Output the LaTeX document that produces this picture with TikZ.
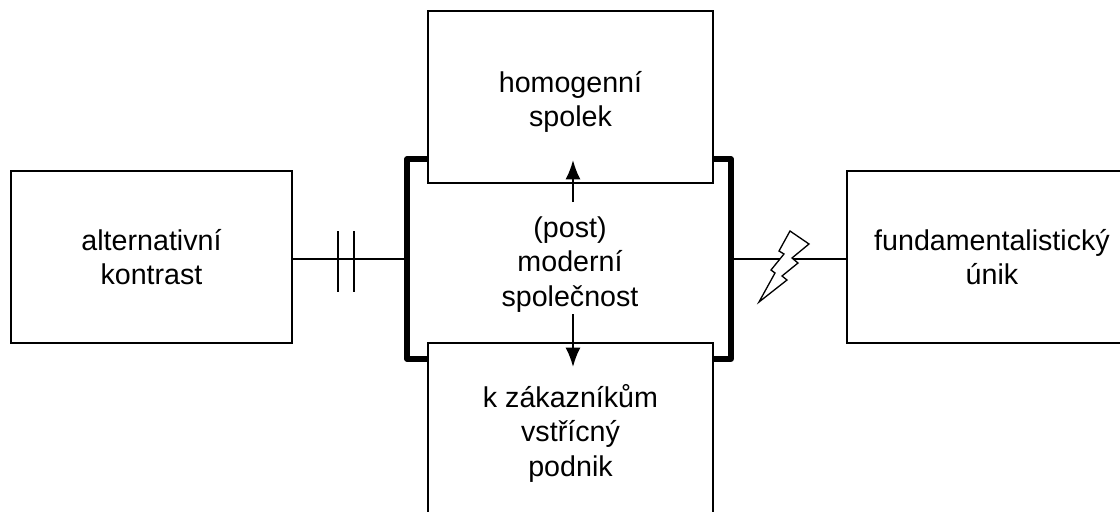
\documentclass[tikz,border=0pt]{standalone}
\usepackage{fontspec}
\setmainfont{Liberation Sans}
\usetikzlibrary{arrows.meta}
\begin{document}
\begin{tikzpicture}[x=0.02cm, y=-0.02cm,
					box/.style = {draw, line width=0.75pt, align=center, inner sep=0pt, outer sep=0pt,
						font=\fontsize{16.3}{19.6}\selectfont},
					link/.style = {line width=0.75pt},
					bracket/.style = {line width=2.9pt, line join=round},
					spreadarrow/.style = {-{Latex[length=11pt, width=8.5pt]}, line width=1.1pt},
					ticks/.pic = {\draw[link] (-8,-28) -- (-8,33) (8,-28) -- (8,33);},
					bolt/.pic = {\draw[link, fill=white, line join=miter] (17,-28) -- (36,-15) -- (19,-1) -- (25,4) -- (9,17)
						-- (14,21) -- (-14,43) -- (2,14) -- (-2,11) -- (11,-5) -- (6,-8) -- cycle;}
				]
				\useasboundingbox (0,0) rectangle (1120,511);
				% boxes
				\node[box, minimum width=5.7cm, minimum height=3.44cm] (spolek) at (570.5,97) {\rule{0pt}{17.5pt}homogenní\\spolek};
				\node[box, minimum width=5.7cm, minimum height=3.48cm] (podnik) at (570.5,430) {\rule{0pt}{17pt}k zákazníkům\\vstřícný\\podnik};
				\node[box, minimum width=5.62cm, minimum height=3.44cm] (kontrast) at (151.5,257) {alternativní\\kontrast};
				\node[box, minimum width=5.8cm, minimum height=3.44cm] (unik) at (992,257) {fundamentalistický\\únik};
				\node[align=center, inner sep=0pt, font=\fontsize{16.3}{19.6}\selectfont] (spolecnost) at (570,264.5) {(post)\\moderní\\společnost};
				% bracket
				\coordinate (lefttop) at (spolek.west |- 0,159);
				\coordinate (leftbottom) at (podnik.west |- 0,359);
				\coordinate (righttop) at (spolek.east |- 0,159);
				\coordinate (rightbottom) at (podnik.east |- 0,359);
				\coordinate (leftbar) at (407,259);
				\coordinate (rightbar) at (731,259);
				\draw[bracket] (lefttop) -- (407,159) -- (407,359) -- (leftbottom);
				\draw[bracket] (righttop) -- (731,159) -- (731,359) -- (rightbottom);
				% connectors
				\draw[link] (kontrast.east |- leftbar) -- pic[pos=0.47] {ticks} (leftbar);
				\draw[link] (rightbar) -- (unik.west |- rightbar);
				\pic at (773,259) {bolt};
				\coordinate (spolekend) at (573,160);
				\coordinate (podnikend) at (573,367);
				\draw[spreadarrow] (573,202) -- (spolekend);
				\draw[spreadarrow] (573,314) -- (podnikend);
			\end{tikzpicture}
\end{document}
